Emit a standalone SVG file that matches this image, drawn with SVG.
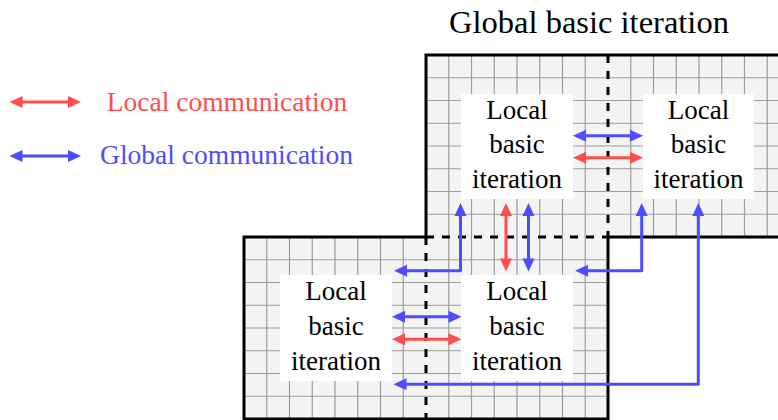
<svg xmlns="http://www.w3.org/2000/svg" width="778" height="420" viewBox="0 0 778 420">
<style>
.bg{fill:#f4f4f4;stroke:none}
.grid{fill:none;stroke:#9c9c9c;stroke-width:1.2}
.border{fill:none;stroke:#000;stroke-width:3;stroke-linecap:square}
.dash{fill:none;stroke:#000;stroke-width:3;stroke-dasharray:8 8}
.box{fill:#fff;stroke:none}
.lbl{font-family:"Liberation Serif","Times New Roman",serif;font-size:27px;fill:#000;text-anchor:middle}
.title{font-family:"Liberation Serif","Times New Roman",serif;font-size:32.5px;fill:#000;text-anchor:middle}
.leg{font-family:"Liberation Serif","Times New Roman",serif;font-size:27.5px;text-anchor:middle}
.red{fill:none;stroke:#ff4d4d;stroke-width:3;stroke-linejoin:round;marker-start:url(#ar);marker-end:url(#ar)}
.blue{fill:none;stroke:#4d4dff;stroke-width:3;stroke-linejoin:round;marker-start:url(#ab);marker-end:url(#ab)}
</style>
<defs>
<marker id="ar" markerUnits="userSpaceOnUse" markerWidth="14" markerHeight="14" viewBox="0 0 14 14" refX="3" refY="7" orient="auto-start-reverse" overflow="visible">
<path d="M0,1 L13,7 L0,13 z" fill="#ff4d4d"/>
</marker>
<marker id="ab" markerUnits="userSpaceOnUse" markerWidth="14" markerHeight="14" viewBox="0 0 14 14" refX="3" refY="7" orient="auto-start-reverse" overflow="visible">
<path d="M0,1 L13,7 L0,13 z" fill="#4d4dff"/>
</marker>
</defs>

<g id="title"><text class="title" x="589" y="33">Global basic iteration</text></g>

<g id="grid-top">
<rect class="bg" x="426" y="55" width="364" height="182"/>
<path class="grid" d="M448.75 55V237M471.5 55V237M494.25 55V237M517 55V237M539.75 55V237M562.5 55V237M585.25 55V237M630.75 55V237M653.5 55V237M676.25 55V237M699 55V237M721.75 55V237M744.5 55V237M767.25 55V237M426 77.75H778M426 100.5H778M426 123.25H778M426 146H778M426 168.75H778M426 191.5H778M426 214.25H778"/>
</g>
<g id="grid-bottom">
<rect class="bg" x="244" y="237" width="364" height="182"/>
<path class="grid" d="M266.75 237V419M289.5 237V419M312.25 237V419M335 237V419M357.75 237V419M380.5 237V419M403.25 237V419M448.75 237V419M471.5 237V419M494.25 237V419M517 237V419M539.75 237V419M562.5 237V419M585.25 237V419M244 259.75H608M244 282.5H608M244 305.25H608M244 328H608M244 350.75H608M244 373.5H608M244 396.25H608"/>
</g>
<g id="borders">
<path class="border" d="M790 55H426V237M608 237H790M426 237H244V419H608V237"/>
<path class="dash" d="M608 55V237M426 237H608M426 237V419"/>
</g>

<g id="node-tl">
<rect class="box" x="461" y="94" width="112" height="105"/>
<text class="lbl" x="517" y="119">Local</text>
<text class="lbl" x="517" y="153">basic</text>
<text class="lbl" x="517" y="188">iteration</text>
</g>
<g id="node-tr">
<rect class="box" x="643" y="94" width="111" height="105"/>
<text class="lbl" x="698.5" y="119">Local</text>
<text class="lbl" x="698.5" y="153">basic</text>
<text class="lbl" x="698.5" y="188">iteration</text>
</g>
<g id="node-bl">
<rect class="box" x="280" y="275" width="112" height="106"/>
<text class="lbl" x="336" y="299.5">Local</text>
<text class="lbl" x="336" y="335">basic</text>
<text class="lbl" x="336" y="369.5">iteration</text>
</g>
<g id="node-br">
<rect class="box" x="461" y="275" width="112" height="106"/>
<text class="lbl" x="517" y="299.5">Local</text>
<text class="lbl" x="517" y="335">basic</text>
<text class="lbl" x="517" y="369.5">iteration</text>
</g>

<g id="legend">
<path class="red" d="M19.5 102H71"/>
<text class="leg" x="227" y="110.5" fill="#ff4d4d">Local communication</text>
<path class="blue" d="M19.5 156H71"/>
<text class="leg" x="226.5" y="163.5" fill="#4d4dff">Global communication</text>
</g>

<g id="connectors">
<path class="blue" d="M583 135.7H633"/>
<path class="red" d="M583 157.7H633"/>
<path class="blue" d="M402 316.7H451.5"/>
<path class="red" d="M402 339.3H451.5"/>
<path class="red" d="M506 213V261.5"/>
<path class="blue" d="M528.5 213V261.5"/>
<path class="blue" d="M460.5 213V270.7H404"/>
<path class="blue" d="M641.7 213V270.7H585"/>
<path class="blue" d="M698.3 213V384.3H403.5"/>
</g>
</svg>
